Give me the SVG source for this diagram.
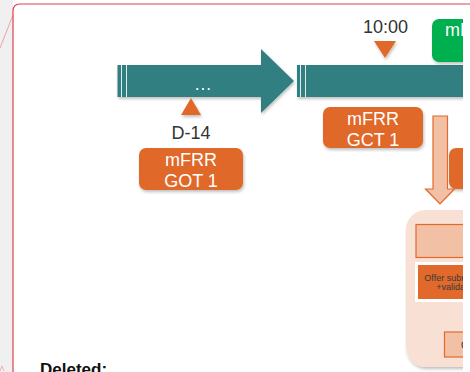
<svg xmlns="http://www.w3.org/2000/svg" width="470" height="372" viewBox="0 0 470 372">
  <style>
    .teal { fill: #317f81; }
    .stripe { fill: #ffffff; opacity: 0.85; }
    .tri { fill: #e0692b; }
    .obox { fill: #e0692b; }
    .lbl { font-family: "Liberation Sans", Arial, sans-serif; font-size: 18px; fill: #333333; text-anchor: middle; }
    .wtxt { font-family: "Liberation Sans", Arial, sans-serif; font-size: 18px; fill: #ffffff; text-anchor: middle; }
    .wleft { font-family: "Liberation Sans", Arial, sans-serif; font-size: 18px; fill: #ffffff; text-anchor: start; }
    .small { font-family: "Liberation Sans", Arial, sans-serif; font-size: 9px; fill: #3a3a3a; text-anchor: middle; }
    .light { fill: #f2c0a4; stroke: #e0692b; stroke-width: 1.2; }
  </style>
  <defs>
    <filter id="sh" x="-10%" y="-10%" width="130%" height="140%">
      <feDropShadow dx="1" dy="2" stdDeviation="1.5" flood-color="#000" flood-opacity="0.25"/>
    </filter>
    <clipPath id="clip">
      <rect x="0" y="0" width="463" height="372"/>
    </clipPath>
  </defs>

  <rect x="0" y="0" width="470" height="372" fill="#ffffff"/>
  <rect x="0" y="0" width="13" height="372" fill="#f0f0f0"/>
  <path d="M0,48 L13,15" stroke="#f0a0a8" stroke-width="1" fill="none"/>
  <path d="M0,371 L2,366 L4,371" stroke="#f0a0a8" stroke-width="0.8" fill="none"/>
  <path d="M13,372 V11 Q13,4 20,4 H470" stroke="#e0404c" stroke-width="1.2" fill="none"/>

  <text x="40" y="374.5" font-family="'Liberation Sans', Arial, sans-serif" font-size="17" font-weight="bold" fill="#111111">Deleted:</text>

  <g clip-path="url(#clip)">
    <g id="timeline1" filter="url(#sh)">
      <path class="teal" d="M117.5,65 H261 V49 L294,81 L261,113 V97 H117.5 Z"/>
      <rect class="stripe" x="121" y="65" width="1" height="32"/>
      <rect class="stripe" x="126" y="65" width="1" height="32"/>
      <text x="203" y="90" font-family="'Liberation Sans', Arial, sans-serif" font-size="18" fill="#ffffff" text-anchor="middle">…</text>
    </g>
    <g id="timeline2" filter="url(#sh)">
      <rect class="teal" x="297" y="65" width="180" height="32"/>
      <rect class="stripe" x="300" y="65" width="1" height="32"/>
      <rect class="stripe" x="305" y="65" width="1" height="32"/>
    </g>

    <g id="marker-d14">
      <polygon class="tri" points="191,98 181,115 201,115" filter="url(#sh)"/>
      <text class="lbl" x="191" y="139">D-14</text>
    </g>
    <g id="marker-1000">
      <text class="lbl" x="385.5" y="32.5">10:00</text>
      <polygon class="tri" points="374,41 396,41 385,58" filter="url(#sh)"/>
    </g>

    <g id="got1">
      <rect class="obox" x="139" y="148" width="104" height="42" rx="7" filter="url(#sh)"/>
      <text class="wtxt" x="191" y="166">mFRR</text>
      <text class="wtxt" x="191" y="187">GOT 1</text>
    </g>
    <g id="gct1">
      <rect class="obox" x="323" y="107" width="100" height="41" rx="7" filter="url(#sh)"/>
      <text class="wtxt" x="373" y="124.5">mFRR</text>
      <text class="wtxt" x="373" y="145.5">GCT 1</text>
    </g>
    <g id="green-box">
      <rect x="432" y="19" width="60" height="43" rx="7" fill="#00b050" filter="url(#sh)"/>
      <text class="wleft" x="445" y="36">mFRR</text>
    </g>
    <g id="right-orange">
      <rect class="obox" x="449" y="148" width="40" height="41" rx="7" filter="url(#sh)"/>
    </g>

    <g id="connectors">
      <path d="M433,116 H447.5 V189 H454.5 L440,204 L425.5,189 H433 Z" fill="#f2c0a4" stroke="#e0692b" stroke-width="1.2"/>
    </g>

    <g id="process-panel">
      <rect x="406" y="210" width="120" height="157" rx="20" fill="#f9e0d5" filter="url(#sh)"/>
      <rect class="light" x="416" y="224.5" width="80" height="33"/>
      <rect x="415" y="262" width="80" height="40" fill="#ffffff"/>
      <rect class="obox" x="418" y="265" width="76" height="34"/>
      <text class="small" x="458" y="280.5">Offer submission</text>
      <text class="small" x="458" y="290">+validation</text>
      <rect class="light" x="444.5" y="332" width="60" height="25"/>
      <text x="461" y="349" font-family="'Liberation Sans', Arial, sans-serif" font-size="10" fill="#333333">C</text>
    </g>
  </g>
</svg>
